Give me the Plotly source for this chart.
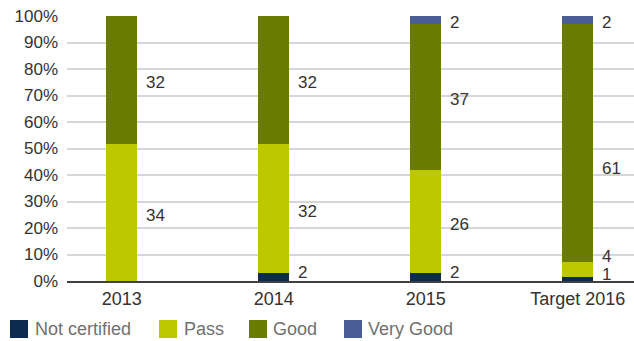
import plotly.graph_objects as go

categories = ["2013", "2014", "2015", "Target 2016"]
series_names = ["Not certified", "Pass", "Good", "Very Good"]
not_certified = [0, 2, 2, 1]
pass_vals = [34, 32, 26, 4]
good_vals = [32, 32, 37, 61]
very_good_vals = [0, 0, 2, 2]
y_tick_vals = [0, 10, 20, 30, 40, 50, 60, 70, 80, 90, 100]
y_tick_text = ["0%", "10%", "20%", "30%", "40%", "50%", "60%", "70%", "80%", "90%", "100%"]

colors = ["#0b2b50", "#bdc800", "#697b00", "#4a5d94"]
series = [not_certified, pass_vals, good_vals, very_good_vals]

# label placement tweaks (percentage points), by (category, series)
label_nudge = {(3, 2): -8.8}

FONT = "Liberation Sans, Arial, Helvetica, sans-serif"

fig = go.Figure()
for name, vals, col in zip(series_names, series, colors):
    fig.add_trace(go.Bar(
        x=categories, y=vals, name=name, marker=dict(color=col, line=dict(width=0)),
        width=0.204, showlegend=False, hoverinfo="x+y+name",
    ))

# data labels to the right of each segment, near segment middle (percent space)
annotations = []
for i, cat in enumerate(categories):
    total = sum(s[i] for s in series)
    cum = 0.0
    last_y = None
    for j, s in enumerate(series):
        v = s[i]
        if v > 0:
            mid = (cum + v / 2) / total * 100 - 1.0 + label_nudge.get((i, j), 0.0)
            y = max(mid, 3.2)
            if last_y is not None and y - last_y < 6.8:
                y = last_y + 6.8
            if i == 3 and j == 0:
                y = 2.3
            last_y = y
            annotations.append(dict(
                x=i, y=y, xref="x", yref="y", text=str(v), showarrow=False,
                xanchor="left", yanchor="middle", xshift=22,
                font=dict(family=FONT, size=17, color="#333333"),
            ))
        cum += v

# custom legend (large square swatches)
W, X0 = 567.0, 67.0
H, YB = 265.0, 281.0
def px_x(p):
    return (p - X0) / W
def px_y(p):
    return (YB - p) / H

legend_pos = [(10, 33), (159, 182), (249, 271), (344, 366)]
shapes = []
for (sq, tx), name, col in zip(legend_pos, series_names, colors):
    shapes.append(dict(type="rect", xref="paper", yref="paper",
                       x0=px_x(sq), x1=px_x(sq + 18), y0=px_y(338), y1=px_y(320),
                       fillcolor=col, line=dict(width=0)))
    annotations.append(dict(x=px_x(tx), y=px_y(329), xref="paper", yref="paper",
                            text=name, showarrow=False, xanchor="left", yanchor="middle",
                            font=dict(family=FONT, size=18, color="#707070")))

fig.update_layout(
    barmode="stack", barnorm="percent",
    width=634, height=341,
    margin=dict(l=67, r=0, t=16, b=60),
    paper_bgcolor="white", plot_bgcolor="white",
    font=dict(family=FONT, size=17, color="#333333"),
    annotations=annotations, shapes=shapes,
    xaxis=dict(type="category", range=[-0.36, 3.37], showgrid=False, showline=True,
               linecolor="#404040", linewidth=2, ticks="",
               tickfont=dict(size=18, color="#333333"),
               ticklabelstandoff=0, fixedrange=True),
    yaxis=dict(range=[0, 100], tickvals=y_tick_vals, ticktext=y_tick_text,
               showgrid=True, gridcolor="#d6d6d6", gridwidth=1.5, zeroline=False,
               showline=False, ticks="", tickfont=dict(size=17, color="#333333"),
               ticklabelstandoff=8, fixedrange=True),
    showlegend=False,
)

fig.write_html("out.html", config={"displayModeBar": False},
               post_script="document.body.style.margin='0';document.body.style.overflow='hidden';")
